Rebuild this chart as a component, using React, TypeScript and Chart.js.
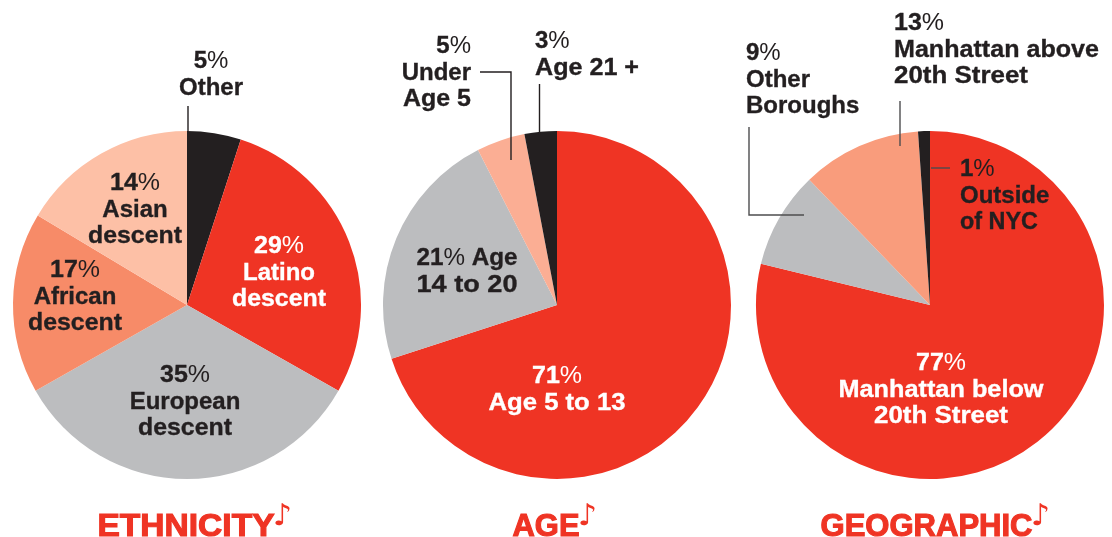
import React, { useEffect, useRef } from "react";
import { Chart, registerables } from "chart.js";

Chart.register(...registerables);

// Slice sizes as drawn in the picture, clockwise from 12 o'clock.
const ethnicityCategories = ["Other", "Latino descent", "European descent", "African descent", "Asian descent"];
const ethnicityValues = [5, 28.2, 33.6, 16.8, 16.4];
const ageCategories = ["Age 5 to 13", "Age 14 to 20", "Under Age 5", "Age 21 +"];
const ageValues = [70, 22.5, 4.5, 3];
const geographicCategories = ["Manhattan below 20th Street", "Other Boroughs", "Manhattan above 20th Street", "Outside of NYC"];
const geographicValues = [78.8, 9, 11.1, 1.1];

const RED = "#EF3424";
const INK = "#231F20";
const GRAY = "#BCBDBF";

const ethnicityColors = [INK, RED, GRAY, "#F78B68", "#FDC0A6"];
const ageColors = [RED, GRAY, "#FBAE94", INK];
const geographicColors = [RED, GRAY, "#F99C7C", INK];

type Label = { lines: string[]; x: number; y: number; align: CanvasTextAlign; color?: string };
type Leader = { pts: [number, number][]; color?: string };

const panels: {
  left: number; width: number; cx: number; title: string; titleLeft: number; titleWidth: number;
  categories: string[]; values: number[]; colors: string[]; labels: Label[]; leaders: Leader[];
}[] = [
  {
    left: 0, width: 372, cx: 187, title: "ETHNICITY", titleLeft: 97, titleWidth: 178,
    categories: ethnicityCategories, values: ethnicityValues, colors: ethnicityColors,
    labels: [
      { lines: ["5%", "Other"], x: 211, y: 60, align: "center" },
      { lines: ["14%", "Asian", "descent"], x: 135, y: 182, align: "center" },
      { lines: ["29%", "Latino", "descent"], x: 279, y: 245, align: "center", color: "#fff" },
      { lines: ["17%", "African", "descent"], x: 75, y: 269, align: "center" },
      { lines: ["35%", "European", "descent"], x: 185, y: 374, align: "center" },
    ],
    leaders: [{ pts: [[188, 106], [188, 132]] }],
  },
  {
    left: 372, width: 373, cx: 557, title: "AGE", titleLeft: 512, titleWidth: 68,
    categories: ageCategories, values: ageValues, colors: ageColors,
    labels: [
      { lines: ["5%", "Under", "Age 5"], x: 471, y: 45, align: "right" },
      { lines: ["3%", "Age 21 +"], x: 535, y: 40, align: "left" },
      { lines: ["21% Age", "14 to 20"], x: 467, y: 257, align: "center" },
      { lines: ["71%", "Age 5 to 13"], x: 557, y: 375, align: "center", color: "#fff" },
    ],
    leaders: [
      { pts: [[480, 72], [511, 72], [511, 160]] },
      { pts: [[539.5, 84], [539.5, 135]] },
    ],
  },
  {
    left: 745, width: 367, cx: 930, title: "GEOGRAPHIC", titleLeft: 820, titleWidth: 213,
    categories: geographicCategories, values: geographicValues, colors: geographicColors,
    labels: [
      { lines: ["9%", "Other", "Boroughs"], x: 746, y: 52, align: "left" },
      { lines: ["13%", "Manhattan above", "20th Street"], x: 894, y: 22, align: "left" },
      { lines: ["1%", "Outside", "of NYC"], x: 960, y: 168, align: "left" },
      { lines: ["77%", "Manhattan below", "20th Street"], x: 941, y: 362, align: "center", color: "#fff" },
    ],
    leaders: [
      { pts: [[749, 127], [749, 215], [804, 215]], color: "#4d4d4f" },
      { pts: [[900, 101], [900, 146]], color: "#4d4d4f" },
      { pts: [[931, 168], [950, 168]], color: "#4d4d4f" },
    ],
  },
];

// Printed widths of the lines where the substitute font runs narrower than the original.
const lineWidths: Record<string, number> = {
  "Manhattan above": 205,
  "Manhattan below": 205,
  "20th Street": 134,
  "Age 21 +": 104,
  "Age 5 to 13": 137,
  "14 to 20": 101,
  "21% Age": 101,
  "of NYC": 78,
  "Age 5": 68,
  descent: 94,
  "14%": 50,
  "17%": 50,
  "29%": 50,
  "35%": 50,
  "71%": 50,
  "77%": 50,
  "13%": 50,
};

const H = 537;
const CY = 305;
const R = 174;
const FAMILY = '"Liberation Sans", Arial, sans-serif';
const LINE = 26.6;

function drawLine(ctx: CanvasRenderingContext2D, text: string, x: number, y: number, align: CanvasTextAlign, color: string) {
  // The % sign is set in a lighter weight than the rest of each line.
  const parts = text.split(/(%)/).filter(Boolean);
  const fontFor = (p: string) => (p === "%" ? `400 24px ${FAMILY}` : `700 24px ${FAMILY}`);
  let natural = 0;
  const widths = parts.map((p) => {
    ctx.font = fontFor(p);
    const w = ctx.measureText(p).width;
    natural += w;
    return w;
  });
  const total = lineWidths[text] ?? natural;
  const sx = total / natural;
  const start = align === "center" ? x - total / 2 : align === "right" ? x - total : x;
  ctx.save();
  ctx.translate(start, y + 1.5);
  ctx.scale(sx, 1);
  ctx.textAlign = "left";
  ctx.textBaseline = "middle";
  ctx.fillStyle = color;
  ctx.strokeStyle = color;
  ctx.lineWidth = 0.35;
  let cur = 0;
  parts.forEach((p, i) => {
    ctx.font = fontFor(p);
    ctx.fillText(p, cur, 0);
    if (p !== "%") ctx.strokeText(p, cur, 0);
    cur += widths[i];
  });
  ctx.restore();
}

function PiePanel({ panel }: { panel: (typeof panels)[number] }) {
  const ref = useRef<HTMLCanvasElement | null>(null);
  useEffect(() => {
    const annotate = {
      id: "annotate",
      afterDraw(chart: Chart) {
        const ctx = chart.ctx;
        ctx.save();
        ctx.translate(-panel.left, 0);
        for (const l of panel.leaders) {
          ctx.beginPath();
          l.pts.forEach(([x, y], i) => (i ? ctx.lineTo(x, y) : ctx.moveTo(x, y)));
          ctx.strokeStyle = l.color ?? INK;
          ctx.lineWidth = 1.4;
          ctx.stroke();
        }
        for (const lab of panel.labels) {
          lab.lines.forEach((t, i) => drawLine(ctx, t, lab.x, lab.y + i * LINE, lab.align, lab.color ?? INK));
        }
        // Heavy title, fattened with a stroke.
        ctx.font = `700 31px ${FAMILY}`;
        ctx.textAlign = "left";
        ctx.textBaseline = "alphabetic";
        const w = ctx.measureText(panel.title).width;
        ctx.save();
        ctx.translate(panel.titleLeft + 0.5, 535.5);
        ctx.scale((panel.titleWidth - 1) / w, 1);
        ctx.fillStyle = RED;
        ctx.strokeStyle = RED;
        ctx.lineWidth = 1.1;
        ctx.lineJoin = "miter";
        ctx.fillText(panel.title, 0, 0);
        ctx.strokeText(panel.title, 0, 0);
        ctx.restore();
        ctx.font = `400 30px "DejaVu Sans"`;
        ctx.fillStyle = RED;
        ctx.fillText("\u266A", panel.titleLeft + panel.titleWidth - 2, 525);
        ctx.restore();
      },
    };
    const chart = new Chart(ref.current!, {
      type: "pie",
      data: {
        labels: panel.categories,
        datasets: [{ data: panel.values, backgroundColor: panel.colors, borderWidth: 0, hoverOffset: 0 }],
      },
      options: {
        animation: false,
        responsive: false,
        events: [],
        layout: {
          padding: {
            left: panel.cx - panel.left - R,
            right: panel.left + panel.width - panel.cx - R,
            top: CY - R,
            bottom: H - CY - R,
          },
        },
        plugins: { legend: { display: false }, tooltip: { enabled: false }, title: { display: false } },
      },
      plugins: [annotate],
    });
    return () => chart.destroy();
  }, [panel]);
  return (
    <canvas
      ref={ref}
      width={panel.width}
      height={H}
      style={{ position: "absolute", left: panel.left, top: 0, width: panel.width, height: H, display: "block" }}
    />
  );
}

export default function App() {
  return (
    <div style={{ position: "absolute", left: 0, top: 0, width: 1112, height: H, overflow: "hidden", background: "#fff" }}>
      {panels.map((p) => (
        <PiePanel key={p.title} panel={p} />
      ))}
    </div>
  );
}
